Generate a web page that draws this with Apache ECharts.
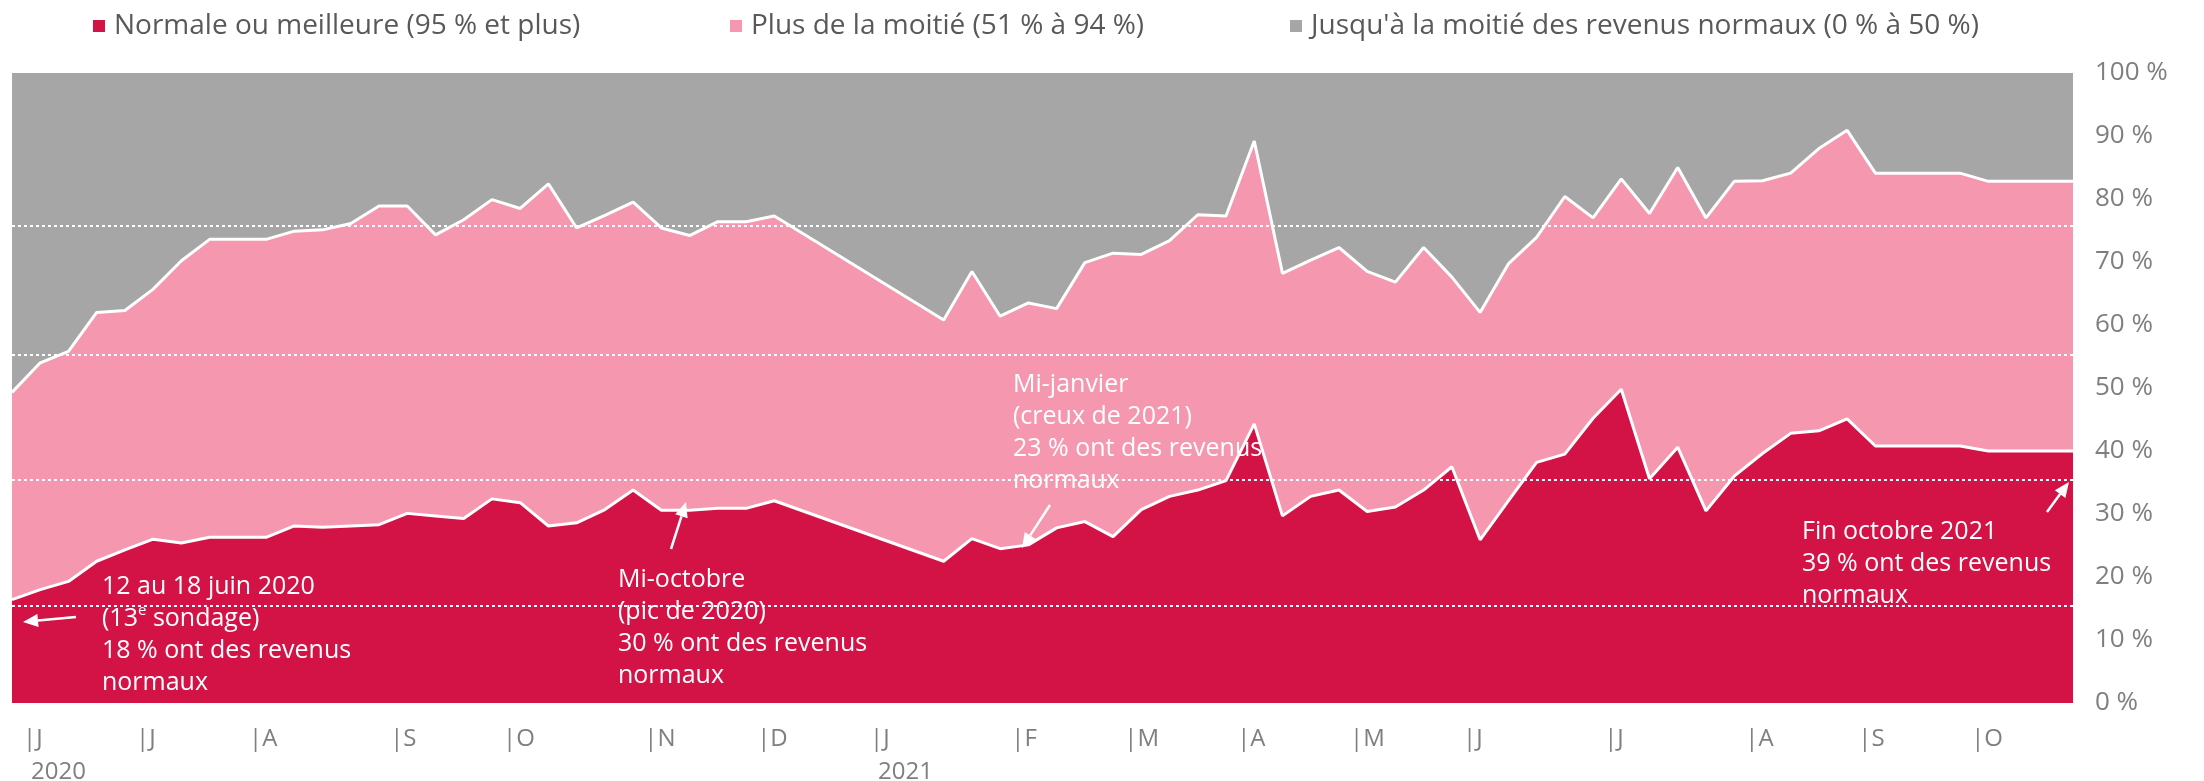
<!DOCTYPE html>
<html>
<head>
<meta charset="utf-8">
<script src="https://cdn.jsdelivr.net/npm/echarts@6/dist/echarts.min.js"></script>
<style>
  html, body { margin: 0; padding: 0; background: #fff; }
  #revenus { width: 2204px; height: 781px; }
</style>
</head>
<body>
<div id="revenus"></div>
<script>
// semaines de sondage (12-18 juin 2020 -> fin octobre 2021)
const categories = []
for (let i = 0; i < 74; i++) {
  let d = new Date(Date.UTC(2020, 5, 15 + i * 7))
  categories.push(d.toISOString().slice(0, 10))
}

// part des entreprises (%), null = pas de sondage
const normale = [16.4, 18.0, 19.3, 22.5, 24.3, 26.0, 25.4, 26.3, 26.3, 26.3,
  28.1, 27.9, 28.1, 28.3, 30.1, 29.7, 29.3, 32.4, 31.8, 28.1,
  28.6, 30.7, 33.8, 30.6, 30.6, 30.9, 30.9, 32.1,
  null, null, null, null, null,
  22.5, 26.1, 24.5, 25.1, 27.8, 28.8, 26.4, 30.7, 32.8, 33.8,
  35.3, 44.3, 29.7, 32.8, 33.8, 30.4, 31.1, 33.8, 37.5, 25.9,
  32.1, 38.2, 39.5, 45.2, 49.8, 35.6, 40.6, 30.5, 36.0, 39.6,
  42.8, 43.2, 45.1, 40.8, 40.8, 40.8, 40.8, 40.0, 40.0, 40.0, 40.0]
const plusMoitie = [32.9, 36.0, 36.5, 39.5, 38.0, 39.7, 44.8, 47.3, 47.3, 47.3,
  46.8, 47.2, 48.0, 50.6, 48.8, 44.6, 47.4, 47.5, 46.7, 54.3,
  46.8, 46.7, 45.7, 44.8, 43.6, 45.5, 45.5, 45.2,
  null, null, null, null, null,
  38.3, 42.4, 36.9, 38.4, 34.8, 41.1, 45.0, 40.5, 40.6, 43.7,
  42.0, 44.9, 38.5, 37.5, 38.5, 38.1, 35.7, 38.5, 30.1, 36.1,
  37.6, 35.7, 40.9, 31.8, 33.4, 42.1, 44.4, 46.5, 46.8, 43.3,
  41.3, 44.8, 45.8, 43.3, 43.3, 43.3, 43.3, 42.8, 42.8, 42.8, 42.8]
const jusquMoitie = [50.7, 46.0, 44.2, 38.0, 37.7, 34.3, 29.8, 26.4, 26.4, 26.4,
  25.1, 24.9, 23.9, 21.1, 21.1, 25.7, 23.3, 20.1, 21.5, 17.6,
  24.6, 22.6, 20.5, 24.6, 25.8, 23.6, 23.6, 22.7,
  null, null, null, null, null,
  39.2, 31.5, 38.6, 36.5, 37.4, 30.1, 28.6, 28.8, 26.6, 22.5,
  22.7, 10.8, 31.8, 29.7, 27.7, 31.5, 33.2, 27.7, 32.4, 38.0,
  30.3, 26.1, 19.6, 23.0, 16.8, 22.3, 15.0, 23.0, 17.2, 17.1,
  15.9, 12.0, 9.1, 15.9, 15.9, 15.9, 15.9, 17.2, 17.2, 17.2, 17.2]

const seriesNames = ['Normale ou meilleure (95 % et plus)', 'Plus de la moitié (51 % à 94 %)',
  "Jusqu'à la moitié des revenus normaux (0 % à 50 %)"]

// etiquettes de mois (position = intervalle entre deux semaines)
const monthLetters = ['J', 'J', 'A', 'S', 'O', 'N', 'D', 'J', 'F', 'M', 'A', 'M', 'J', 'J', 'A', 'S', 'O']
const monthCells = [0, 4, 8, 13, 17, 22, 26, 30, 35, 39, 43, 47, 51, 56, 61, 65, 69]
const yearCells = [0, 30]
const years = ['2020', '2021']

const yTicks = [0, 10, 20, 30, 40, 50, 60, 70, 80, 90, 100]
const refLines = [15.5, 35.5, 55.3, 75.7]

const RED = '#d31245'
const PINK = '#f598af'
const GREY = '#a6a6a6'
const FONT = '"Open Sans", "Noto Sans", sans-serif'

let cells = []
for (let i = 0; i < categories.length - 1; i++) cells.push('')
monthCells.forEach((c, k) => { cells[c] = monthLetters[k] })

function arrow (x1, y1, x2, y2) {
  let a = Math.atan2(y2 - y1, x2 - x1)
  let len = 15, w = 6.5
  let bx = x2 - len * Math.cos(a), by = y2 - len * Math.sin(a)
  let px = -Math.sin(a) * w, py = Math.cos(a) * w
  return {
    type: 'group',
    children: [
      { type: 'line', z: 100, shape: { x1: x1, y1: y1, x2: bx, y2: by }, style: { stroke: '#fff', lineWidth: 2.5 } },
      { type: 'polygon', z: 100, shape: { points: [[x2, y2], [bx + px, by + py], [bx - px, by - py]] }, style: { fill: '#fff' } }
    ]
  }
}

function note (x, y, text, rich) {
  return {
    type: 'text',
    x: x,
    y: y,
    z: 100,
    style: {
      text: text,
      fill: '#fff',
      fontSize: 25,
      fontFamily: FONT,
      lineHeight: 32,
      verticalAlign: 'top',
      rich: rich || {}
    }
  }
}

function legendAt (left, name) {
  return {
    left: left,
    top: 12,
    padding: 0,
    data: [name],
    icon: 'rect',
    itemWidth: 12,
    itemHeight: 12,
    selectedMode: false,
    textStyle: { color: '#595959', fontSize: 28, fontFamily: FONT, padding: [0, 0, 0, 4] }
  }
}

function areaSeries (name, data, color, lineWidth, z) {
  return {
    name: name,
    type: 'line',
    stack: 'total',
    data: data,
    z: z,
    symbol: 'none',
    connectNulls: true,
    animation: false,
    itemStyle: { color: color },
    lineStyle: { color: '#fff', width: lineWidth, opacity: lineWidth ? 1 : 0 },
    areaStyle: { color: color, opacity: 1 }
  }
}

let myChart = echarts.init(document.getElementById('revenus'))

let option = {
  backgroundColor: '#fff',
  legend: [legendAt(93, seriesNames[0]), legendAt(730, seriesNames[1]), legendAt(1290, seriesNames[2])],
  grid: { left: 12, right: 131, top: 73, bottom: 78, outerBoundsMode: 'none' },
  xAxis: [
    {
      type: 'category',
      data: categories,
      boundaryGap: false,
      axisLine: { show: false },
      axisTick: { show: false },
      axisLabel: { show: false }
    },
    {
      type: 'category',
      data: cells,
      boundaryGap: true,
      position: 'bottom',
      axisLine: { show: false },
      axisTick: { show: false },
      axisLabel: {
        interval: 0,
        align: 'left',
        margin: 20,
        color: '#7f7f7f',
        fontSize: 24,
        fontFamily: FONT,
        lineHeight: 33,
        padding: [0, 0, 0, -3],
        formatter: function (value, idx) {
          if (!value) return ''
          let k = yearCells.indexOf(idx)
          return k >= 0 ? '|' + value + '\n{y|' + years[k] + '}' : '|' + value
        },
        rich: { y: { color: '#7f7f7f', fontSize: 24, fontFamily: FONT, padding: [0, 0, 0, 8] } }
      }
    }
  ],
  yAxis: {
    type: 'value',
    position: 'right',
    min: yTicks[0],
    max: yTicks[yTicks.length - 1],
    interval: 10,
    axisLine: { show: false },
    axisTick: { show: false },
    splitLine: { show: false },
    axisLabel: { margin: 22, color: '#7f7f7f', fontSize: 26, fontFamily: FONT, formatter: '{value} %' }
  },
  series: [
    areaSeries(seriesNames[0], normale, RED, 3, 5),
    areaSeries(seriesNames[1], plusMoitie, PINK, 3, 4),
    areaSeries(seriesNames[2], jusquMoitie, GREY, 0, 3),
    {
      // lignes de repere pointillees
      name: 'repères',
      type: 'line',
      data: [],
      z: 6,
      silent: true,
      markLine: {
        z: 20,
        silent: true,
        symbol: 'none',
        animation: false,
        label: { show: false },
        lineStyle: { color: '#fff', type: [3, 3], width: 2, opacity: 1 },
        data: refLines.map(v => ({ yAxis: v }))
      }
    }
  ],
  graphic: [
    note(102, 571, '12 au 18 juin 2020\n(13{sup|e} sondage)\n18 % ont des revenus\nnormaux',
      { sup: { fontSize: 15, fill: '#fff', fontFamily: FONT, verticalAlign: 'top', lineHeight: 24 } }),
    arrow(76, 617, 23, 622),
    note(618, 564, 'Mi-octobre\n(pic de 2020)\n30 % ont des revenus\nnormaux'),
    arrow(671, 549, 686, 502),
    note(1013, 369, 'Mi-janvier\n(creux de 2021)\n23 % ont des revenus\nnormaux'),
    arrow(1050, 505, 1022, 548),
    note(1802, 516, 'Fin octobre 2021\n39 % ont des revenus\nnormaux'),
    arrow(2047, 512, 2069, 482)
  ]
}
myChart.setOption(option)
</script>
</body>
</html>
